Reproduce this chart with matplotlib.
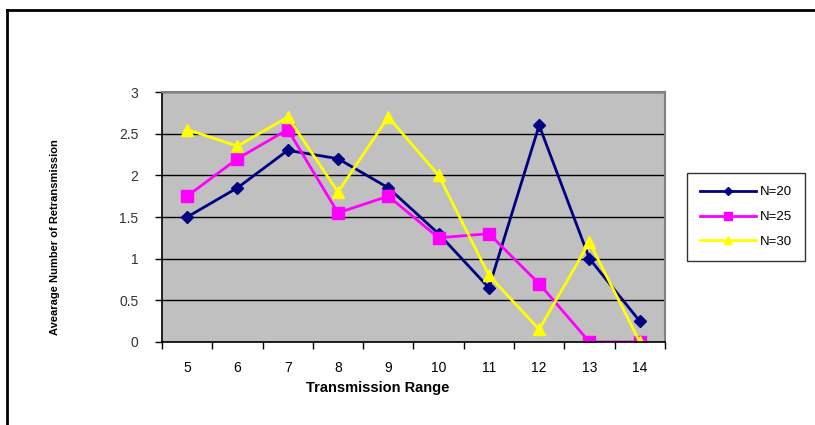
import matplotlib.pyplot as plt
import numpy as np

# average retransmissions per transmission range, for three node counts
ranges = [5, 6, 7, 8, 9, 10, 11, 12, 13, 14]
n20 = [1.5, 1.85, 2.3, 2.2, 1.85, 1.3, 0.65, 2.6, 1.0, 0.25]
n25 = [1.75, 2.2, 2.55, 1.55, 1.75, 1.25, 1.3, 0.7, 0.0, 0.0]
n30 = [2.55, 2.35, 2.7, 1.8, 2.7, 2.0, 0.8, 0.15, 1.2, 0.0]
series_labels = ["N=20", "N=25", "N=30"]
y_ticks = [0, 0.5, 1, 1.5, 2, 2.5, 3]

plt.rcParams['font.family'] = ['Liberation Sans', 'DejaVu Sans']

fig = plt.figure(figsize=(8.15, 4.25), dpi=100)

# outer chart frame (only top and left edges visible)
fig.add_artist(plt.Line2D([0.008, 1.0], [0.976, 0.976], color='black', lw=2,
                          transform=fig.transFigure))
fig.add_artist(plt.Line2D([0.008, 0.008], [0.0, 0.976], color='black', lw=2,
                          transform=fig.transFigure))

ax = fig.add_axes([0.1988, 0.1953, 0.617, 0.5882])
ax.set_facecolor('#C0C0C0')

x = np.arange(len(ranges))
ax.plot(x, n20, color='#000080', marker='D', markersize=6, lw=2, label=series_labels[0])
ax.plot(x, n25, color='#FF00FF', marker='s', markersize=9, lw=2, label=series_labels[1])
ax.plot(x, n30, color='#FFFF00', marker='^', markersize=9, lw=2, label=series_labels[2])

ax.set_xlim(-0.5, len(ranges) - 0.5)
ax.set_ylim(0, 3)
ax.set_yticks(y_ticks)
ax.set_yticklabels([f"{v:g}" for v in y_ticks])
ax.yaxis.grid(True, color='black', lw=1)
ax.set_axisbelow(True)

# category ticks sit between the categories, labels centred on them
ax.set_xticks(np.arange(len(ranges) + 1) - 0.5)
ax.set_xticklabels([])
ax.set_xticks(x, minor=True)
ax.set_xticklabels([str(r) for r in ranges], minor=True)
ax.tick_params(axis='x', which='minor', length=0, pad=14)
ax.tick_params(axis='x', which='major', length=5, direction='out', width=1)
ax.tick_params(axis='y', length=5, direction='out', width=1, pad=12)
ax.tick_params(labelsize=10, labelcolor='#333333')

for side in ['top', 'right']:
    ax.spines[side].set_color('#808080')
    ax.spines[side].set_linewidth(1.5)
for side in ['left', 'bottom']:
    ax.spines[side].set_color('black')
    ax.spines[side].set_linewidth(1.2)

fig.text(0.464, 0.087, "Transmission Range", ha='center', va='center',
         fontsize=10.5, fontweight='bold')
fig.text(0.067, 0.442, "Avearage Number of Retransmission", ha='center', va='center',
         rotation=90, fontsize=8, fontweight='bold')

leg = ax.legend(loc='center left', bbox_to_anchor=(1.044, 0.5), fontsize=9.5,
                frameon=True, fancybox=False, edgecolor='black', handlelength=4.2,
                borderpad=1.0, borderaxespad=0, labelspacing=0.95, handletextpad=0.3,
                markerscale=0.7)
leg.get_frame().set_linewidth(1)

fig.savefig("out.png", dpi=100)
